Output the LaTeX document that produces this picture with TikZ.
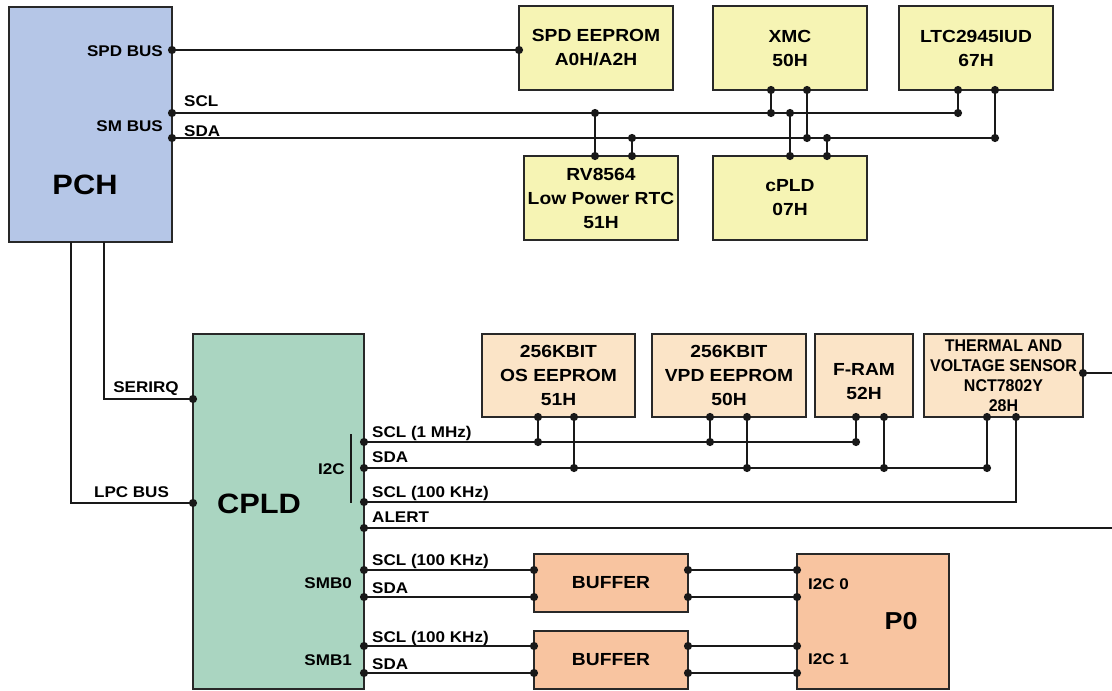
\documentclass[tikz,border=0pt]{standalone}
\usepackage{fontspec}
\setmainfont{Liberation Sans}[FakeStretch=1.1]
\newfontfamily\thermfont{Liberation Sans}[FakeStretch=0.94]
\definecolor{pchc}{RGB}{181,198,231}
\definecolor{yelc}{RGB}{246,244,180}
\definecolor{peachc}{RGB}{251,228,199}
\definecolor{orc}{RGB}{248,196,160}
\definecolor{grnc}{RGB}{170,213,193}
\definecolor{linec}{RGB}{25,25,25}
\definecolor{edgec}{RGB}{40,40,40}
\newcommand\boxfont{\bfseries\fontsize{17.5}{24}\selectfont}
\newcommand\lblfont{\bfseries\fontsize{15.5}{18}\selectfont}
\newcommand\bigfont{\bfseries\fontsize{28}{32}\selectfont}
\newcommand\jdot[1]{\fill[linec] (#1) circle[radius=4.1pt];}
\tikzset{
  ln/.style={line width=1.9pt, draw=linec},
  box/.style={draw=edgec, line width=1.9pt, inner sep=0pt, align=center, font=\boxfont},
  lbl/.style={font=\lblfont, inner sep=0pt},
  biglbl/.style={font=\bigfont, inner sep=0pt, anchor=base},
}
\begin{document}
\begin{tikzpicture}[x=1pt,y=-1pt]
\useasboundingbox[fill=white] (0,0) rectangle (1112,691);

% ---------- boxes ----------
\node[box, fill=pchc, minimum width=163pt, minimum height=235pt] (pch) at (90.5,124.5) {};
\node[box, fill=yelc, minimum width=154pt, minimum height=84pt] (spd) at (596,48) {SPD EEPROM\\A0H/A2H};
\node[box, fill=yelc, minimum width=154pt, minimum height=84pt] (xmc) at (790,48) {XMC\\50H};
\node[box, fill=yelc, minimum width=154pt, minimum height=84pt] (ltc) at (976,48) {LTC2945IUD\\67H};
\node[box, fill=yelc, minimum width=154pt, minimum height=84pt] (rv) at (601,198) {RV8564\\Low Power RTC\\51H};
\node[box, fill=yelc, minimum width=154pt, minimum height=84pt] (cpl) at (790,198) {cPLD\\07H};

\node[box, fill=grnc, minimum width=171pt, minimum height=355pt] (cpld) at (278.5,511.5) {};
\node[box, fill=peachc, minimum width=153pt, minimum height=83pt] (os) at (558.5,375.5) {256KBIT\\OS EEPROM\\51H};
\node[box, fill=peachc, minimum width=154pt, minimum height=83pt] (vpd) at (729,375.5) {256KBIT\\VPD EEPROM\\50H};
\node[box, fill=peachc, minimum width=98pt, minimum height=83pt] (fram) at (864,375.5) {\mbox{}\\F-RAM\\52H};
\node[box, fill=peachc, minimum width=159pt, minimum height=83pt,
      font=\thermfont\bfseries\fontsize{17}{20}\selectfont] (therm) at (1003.5,375.5)
      {THERMAL AND\\VOLTAGE SENSOR\\NCT7802Y\\28H};
\node[box, fill=orc, minimum width=154pt, minimum height=58pt] (buf0) at (611,583) {BUFFER};
\node[box, fill=orc, minimum width=154pt, minimum height=58pt] (buf1) at (611,660) {BUFFER};
\node[box, fill=orc, minimum width=152pt, minimum height=135pt] (p0) at (873,621.5) {};

% ---------- big labels ----------
\node[biglbl] (pchl) at (85,194) {PCH};
\node[biglbl] (cpldl) at (259,513) {CPLD};
\node[biglbl, font=\bfseries\fontsize{24.5}{28}\selectfont] (p0l) at (901,629) {P0};

% ---------- small labels ----------
\node[lbl, anchor=base east] (lspd) at (163,56.5) {SPD BUS};
\node[lbl, anchor=base east] (lsm) at (163,131.5) {SM BUS};
\node[lbl, anchor=base west] (lscl) at (184,106.5) {SCL};
\node[lbl, anchor=base west] (lsda) at (184,136) {SDA};
\node[lbl, anchor=base] (lirq) at (146,392.5) {SERIRQ};
\node[lbl, anchor=base] (llpc) at (131.5,497.5) {LPC BUS};
\node[lbl, anchor=base] (li2c) at (331.5,474.5) {I2C};
\node[lbl, anchor=base west] (l1) at (372,437.5) {SCL (1 MHz)};
\node[lbl, anchor=base west] (l2) at (372,462.5) {SDA};
\node[lbl, anchor=base west] (l3) at (372,497.5) {SCL (100 KHz)};
\node[lbl, anchor=base west] (l4) at (372,522.5) {ALERT};
\node[lbl, anchor=base east] (lsmb0) at (352,588.5) {SMB0};
\node[lbl, anchor=base east] (lsmb1) at (352,665.5) {SMB1};
\node[lbl, anchor=base west] (l5) at (372,565.5) {SCL (100 KHz)};
\node[lbl, anchor=base west] (l6) at (372,593.5) {SDA};
\node[lbl, anchor=base west] (l7) at (372,642.5) {SCL (100 KHz)};
\node[lbl, anchor=base west] (l8) at (372,669.5) {SDA};
\node[lbl, anchor=base west] (li0) at (808,589.5) {I2C 0};
\node[lbl, anchor=base west] (li1) at (808,664.5) {I2C 1};

% ---------- top bus coordinates ----------
\coordinate (pSPD) at (172,50);  \coordinate (eSPD) at (519,50);
\coordinate (pSCL) at (172,113); \coordinate (endSCL) at (958,113);
\coordinate (pSDA) at (172,138); \coordinate (endSDA) at (995,138);
\coordinate (rvA) at (595,156);  \coordinate (rvAb) at (595,113);
\coordinate (rvB) at (632,156);  \coordinate (rvBb) at (632,138);
\coordinate (xmA) at (771,90);   \coordinate (xmAb) at (771,113);
\coordinate (xmB) at (807,90);   \coordinate (xmBb) at (807,138);
\coordinate (cpA) at (790,156);  \coordinate (cpAb) at (790,113);
\coordinate (cpB) at (827,156);  \coordinate (cpBb) at (827,138);
\coordinate (ltA) at (958,90);
\coordinate (ltB) at (995,90);

\draw[ln] (pSPD) -- (eSPD);
\draw[ln] (pSCL) -- (endSCL);
\draw[ln] (pSDA) -- (endSDA);
\draw[ln] (rvA) -- (rvAb);  \draw[ln] (rvB) -- (rvBb);
\draw[ln] (xmA) -- (xmAb);  \draw[ln] (xmB) -- (xmBb);
\draw[ln] (cpA) -- (cpAb);  \draw[ln] (cpB) -- (cpBb);
\draw[ln] (ltA) -- (endSCL); \draw[ln] (ltB) -- (endSDA);
\foreach \p in {pSPD,eSPD,pSCL,pSDA,endSCL,endSDA,rvA,rvAb,rvB,rvBb,xmA,xmAb,xmB,xmBb,cpA,cpAb,cpB,cpBb,ltA,ltB}{\jdot{\p}}

% ---------- PCH to CPLD ----------
\coordinate (pLPC) at (71,242);  \coordinate (cLPC) at (193,503);
\coordinate (pIRQ) at (104,242); \coordinate (cIRQ) at (193,399);
\draw[ln] (pLPC) |- (cLPC);
\draw[ln] (pIRQ) |- (cIRQ);
\jdot{cLPC} \jdot{cIRQ}

% ---------- CPLD I2C buses ----------
\coordinate (i2cT) at (351,434); \coordinate (i2cB) at (351,503);
\draw[ln] (i2cT) -- (i2cB);

\coordinate (c1) at (364,442); \coordinate (e1) at (856,442);
\coordinate (c2) at (364,468); \coordinate (e2) at (987,468);
\coordinate (c3) at (364,502); \coordinate (t3) at (1016,417);
\coordinate (c4) at (364,528); \coordinate (e4) at (1112,528);
\coordinate (tR) at (1083,373); \coordinate (eR) at (1112,373);
\coordinate (osA) at (538,417); \coordinate (osAb) at (538,442);
\coordinate (osB) at (574,417); \coordinate (osBb) at (574,468);
\coordinate (vpA) at (710,417); \coordinate (vpAb) at (710,442);
\coordinate (vpB) at (747,417); \coordinate (vpBb) at (747,468);
\coordinate (frA) at (856,417);
\coordinate (frB) at (884,417); \coordinate (frBb) at (884,468);
\coordinate (thA) at (987,417);

\draw[ln] (c1) -- (e1);
\draw[ln] (c2) -- (e2);
\draw[ln] (c3) -| (t3);
\draw[ln] (c4) -- (e4);
\draw[ln] (tR) -- (eR);
\draw[ln] (osA) -- (osAb); \draw[ln] (osB) -- (osBb);
\draw[ln] (vpA) -- (vpAb); \draw[ln] (vpB) -- (vpBb);
\draw[ln] (frA) -- (e1);   \draw[ln] (frB) -- (frBb);
\draw[ln] (thA) -- (e2);
\foreach \p in {c1,c2,c3,c4,e1,e2,t3,tR,osA,osAb,osB,osBb,vpA,vpAb,vpB,vpBb,frA,frB,frBb,thA}{\jdot{\p}}

% ---------- SMB buses ----------
\foreach \n/\y in {s0a/570,s0b/597,s1a/646,s1b/673}{
  \coordinate (\n c) at (364,\y);
  \coordinate (\n l) at (534,\y);
  \coordinate (\n r) at (688,\y);
  \coordinate (\n p) at (797,\y);
}
\foreach \n in {s0a,s0b,s1a,s1b}{
  \draw[ln] (\n c) -- (\n l);
  \draw[ln] (\n r) -- (\n p);
  \jdot{\n c} \jdot{\n l} \jdot{\n r} \jdot{\n p}
}
\end{tikzpicture}
\end{document}
